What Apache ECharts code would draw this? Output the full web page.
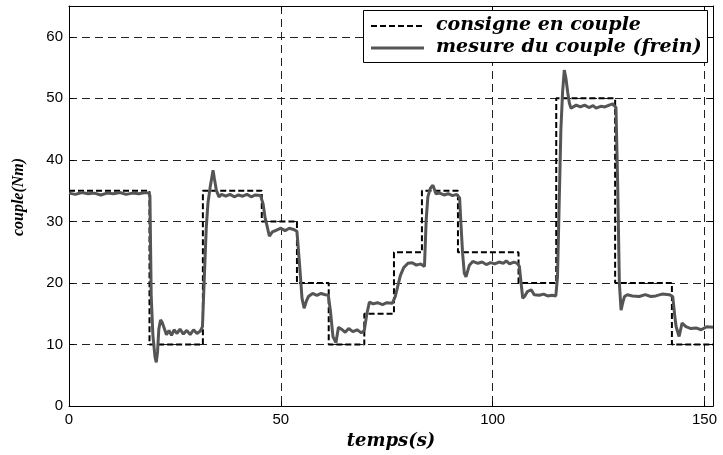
<!DOCTYPE html>
<html>
<head>
<meta charset="utf-8">
<script src="https://cdn.jsdelivr.net/npm/echarts@6/dist/echarts.min.js"></script>
<style>html,body{margin:0;padding:0;background:#fff}#c{width:723px;height:455px}</style>
</head>
<body>
<div id="c"></div>
<script>
const seriesNames = ['consigne en couple', 'mesure du couple (frein)'];
const xTicks = [0, 50, 100, 150];
const yTicks = [0, 10, 20, 30, 40, 50, 60];

// setpoint (step) : time of each change and value held from that time
const consigneTimes  = [0, 19.0, 31.6, 45.5, 53.8, 61.3, 69.7, 76.7, 83.3, 91.8, 106.1, 115.0, 128.9, 142.3, 152];
const consigneValues = [35, 10, 35, 30, 20, 10, 15, 25, 35, 25, 20, 50, 20, 10, 10];

// measured torque
const measureTimes = [
  0, 1.5, 3, 4.5, 6, 7.5, 9, 10.5, 12, 13.5, 15, 16.5, 18, 18.8, 19.1, 19.4, 19.8, 20.3, 20.6, 20.9,
  21.2, 21.6, 22.0, 22.5, 23.0, 23.6, 24.2, 24.8, 25.5, 26.2, 27.0, 27.8, 28.6, 29.4, 30.2, 31.0, 31.5, 32.0, 32.4, 32.8,
  33.3, 33.8, 34.0, 34.3, 34.8, 35.4, 36, 37, 38, 39, 40, 41, 42, 43, 44, 45.2, 45.8, 46.3, 46.7, 47.3,
  48.0, 49.0, 50.0, 51.0, 52.0, 53.0, 53.8, 54.4, 55.0, 55.5, 56.0, 56.5, 57.5, 58.5, 59.5, 60.5, 61.2, 61.7, 62.3, 63.0,
  63.6, 64.3, 65.2, 66.0, 67.0, 68.0, 69.0, 69.7, 70.3, 70.9, 71.8, 72.8, 74.0, 75.0, 76.3, 77.0, 77.6, 78.2, 79.0, 80.0,
  81.0, 82.0, 83.0, 83.9, 84.3, 84.7, 85.3, 85.9, 86.6, 87.5, 88.5, 89.5, 90.5, 91.5, 92.2, 92.5, 92.9, 93.3, 93.7, 94.5,
  95.3, 96.5, 97.5, 98.5, 99.5, 100.5, 101.5, 102.5, 103.2, 104.0, 105.0, 105.8, 106.3, 106.7, 107.1, 107.6, 108.2, 109.1, 109.8, 111,
  112, 113, 114, 114.9, 115.3, 115.7, 116.1, 116.5, 116.9, 117.3, 117.7, 118.1, 118.5, 119.7, 120.7, 121.7, 122.7, 123.7, 124.4, 125.5,
  126.5, 127.5, 128.3, 129.1, 129.5, 129.9, 130.3, 130.7, 131.1, 131.8, 133, 134.6, 136, 137.3, 138.5, 140, 141.7, 142.5, 143.0, 143.3,
  144.0, 144.7, 145.6, 146.8, 148.0, 149.2, 150.5, 152
];
const measureValues = [
  34.6, 34.4, 34.7, 34.5, 34.6, 34.3, 34.6, 34.5, 34.7, 34.4, 34.6, 34.5, 34.7, 34.6, 34.2, 18.0, 11.5, 8.0, 7.1, 8.8,
  12.5, 14.0, 13.6, 12.6, 11.6, 12.3, 11.5, 12.4, 11.8, 12.5, 11.7, 12.3, 11.6, 12.4, 11.8, 12.2, 12.9, 22.0, 29.0, 33.0,
  35.5, 37.5, 38.3, 37.0, 35.0, 34.0, 34.4, 34.1, 34.4, 34.0, 34.3, 34.1, 34.4, 34.0, 34.3, 34.2, 32.9, 30.5, 29.4, 27.6,
  28.3, 28.6, 28.9, 28.5, 28.9, 28.7, 28.4, 23.2, 17.5, 15.9, 17.0, 17.8, 18.3, 18.0, 18.3, 18.1, 18.0, 15.5, 11.3, 10.3,
  12.8, 12.5, 12.0, 12.6, 12.1, 12.4, 11.9, 12.3, 15.0, 16.9, 16.6, 16.8, 16.5, 16.8, 16.7, 17.8, 19.5, 21.2, 22.5, 23.2,
  23.3, 22.9, 23.1, 22.7, 30.2, 34.0, 35.4, 35.9, 34.5, 34.6, 34.3, 34.5, 34.2, 34.4, 33.8, 29.7, 24.8, 21.6, 21.0, 22.9,
  23.5, 23.2, 23.4, 23.0, 23.3, 23.1, 23.4, 23.2, 23.6, 23.1, 23.4, 23.2, 22.7, 20.0, 17.5, 17.9, 18.6, 18.9, 18.1, 18.0,
  18.2, 17.9, 18.0, 17.9, 21.0, 33.0, 45.0, 51.0, 54.6, 53.2, 51.0, 49.2, 48.4, 48.9, 48.6, 48.9, 48.5, 48.8, 48.4, 48.7,
  48.6, 48.9, 49.1, 48.5, 36.1, 20.0, 15.6, 16.8, 17.8, 18.1, 17.9, 17.8, 18.1, 17.8, 17.9, 18.2, 18.1, 17.8, 14.5, 12.9,
  11.3, 13.5, 12.9, 12.6, 12.7, 12.4, 12.9, 12.8
];

const consigneData = consigneTimes.map((t, i) => [t, consigneValues[i]]);
const measureData = measureTimes.map((t, i) => [t, measureValues[i]]);

const titleFont = 'DejaVu Serif';
const gridDash = {color: '#222', width: 1, type: [8, 5]};
const consigneStyle = {color: '#000', width: 2, dash: [6, 3]};
const measureStyle = {color: '#555', width: 3};

const chart = echarts.init(document.getElementById('c'), null, {renderer: 'canvas'});
chart.setOption({
  animation: false,
  backgroundColor: '#fff',
  grid: {left: 69, top: 6, width: 644, height: 401, containLabel: false},
  graphic: [
    {type: 'text', z: 10, x: 19, y: 197, rotation: Math.PI / 2,
      style: {text: 'couple(Nm)', font: 'italic bold 16px "Liberation Serif"', fill: '#000',
        align: 'center', verticalAlign: 'middle'}},
    {type: 'rect', z: 20, shape: {x: 363.5, y: 10.5, width: 344, height: 52},
      style: {fill: '#fff', stroke: '#000', lineWidth: 1}},
    {type: 'line', z: 21, shape: {x1: 371, y1: 26, x2: 424, y2: 26},
      style: {stroke: consigneStyle.color, lineWidth: consigneStyle.width, lineDash: consigneStyle.dash}},
    {type: 'line', z: 21, shape: {x1: 371, y1: 48, x2: 424, y2: 48},
      style: {stroke: measureStyle.color, lineWidth: measureStyle.width}},
    {type: 'text', z: 21, x: 436, y: 25,
      style: {text: seriesNames[0], font: 'italic bold 19px "DejaVu Serif"', fill: '#000', verticalAlign: 'middle'}},
    {type: 'text', z: 21, x: 436, y: 47,
      style: {text: seriesNames[1], font: 'italic bold 19px "DejaVu Serif"', fill: '#000', verticalAlign: 'middle'}}
  ],
  xAxis: [{
    type: 'value', min: 0, max: 152, interval: 50, position: 'bottom',
    name: 'temps(s)', nameLocation: 'middle', nameGap: 24,
    nameTextStyle: {fontFamily: titleFont, fontStyle: 'italic', fontWeight: 'bold', fontSize: 18, color: '#000'},
    axisLine: {show: true, onZero: false, lineStyle: {color: '#000', width: 1}},
    axisTick: {show: true, inside: true, length: 5, lineStyle: {color: '#000'}},
    axisLabel: {fontFamily: 'Liberation Sans', fontSize: 15, color: '#000', margin: 6,
      formatter: v => xTicks.includes(v) ? String(v) : ''},
    splitLine: {show: true, lineStyle: gridDash}
  }, {
    type: 'value', min: 0, max: 152, interval: 50, position: 'top',
    axisLine: {show: true, onZero: false, lineStyle: {color: '#000', width: 1}},
    axisTick: {show: true, inside: true, length: 5, lineStyle: {color: '#000'}},
    axisLabel: {show: false}, splitLine: {show: false}
  }],
  yAxis: [{
    type: 'value', min: 0, max: 65, interval: 10, position: 'left',
    axisLine: {show: true, onZero: false, lineStyle: {color: '#000', width: 1}},
    axisTick: {show: true, inside: true, length: 5, lineStyle: {color: '#000'}},
    axisLabel: {fontFamily: 'Liberation Sans', fontSize: 15, color: '#000', margin: 6,
      formatter: v => yTicks.includes(v) ? String(v) : ''},
    splitLine: {show: true, lineStyle: gridDash}
  }, {
    type: 'value', min: 0, max: 65, interval: 10, position: 'right',
    axisLine: {show: true, onZero: false, lineStyle: {color: '#000', width: 1}},
    axisTick: {show: true, inside: true, length: 5, lineStyle: {color: '#000'}},
    axisLabel: {show: false}, splitLine: {show: false}
  }],
  series: [{
    name: seriesNames[0], type: 'line', step: 'end', data: consigneData,
    symbol: 'none', xAxisIndex: 0, yAxisIndex: 0, z: 2,
    lineStyle: {color: consigneStyle.color, width: consigneStyle.width, type: consigneStyle.dash}
  }, {
    name: seriesNames[1], type: 'line', data: measureData,
    symbol: 'none', xAxisIndex: 0, yAxisIndex: 0, z: 3,
    lineStyle: {color: measureStyle.color, width: measureStyle.width}
  }]
});
</script>
</body>
</html>
